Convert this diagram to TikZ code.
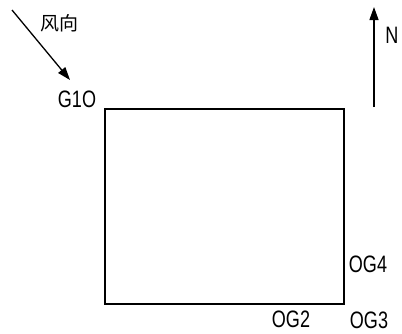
\documentclass[tikz,border=0pt]{standalone}
\usepackage{fontspec}
\setmainfont{Liberation Sans}
\newfontfamily\cjk{Noto Sans CJK SC}
\usetikzlibrary{arrows.meta}
\newcommand{\tallt}[1]{\scalebox{0.95}[1.25]{#1}}
\begin{document}
\begin{tikzpicture}[x=1pt,y=-1pt,
  lbl/.style={inner sep=0pt,font=\fontsize{19}{19}\selectfont},
  arr/.style={line width=1.3pt,-{Triangle[length=13pt,width=9pt]}}]
\useasboundingbox (0,0) rectangle (402,333);
% site boundary
\draw[line width=1.1pt] (105,109) rectangle (344,304);
% wind direction
\coordinate (w0) at (12,10);
\coordinate (w1) at (70,80);
\draw[arr] (w0) -- (w1);
\node[inner sep=0pt,font=\cjk\fontsize{19}{19}\selectfont] (wind) at (60,23) {风向};
% north arrow
\coordinate (n0) at (374,107);
\coordinate (n1) at (374,7);
\draw[arr] (n0) -- (n1);
\node[lbl] (N) at (392,35) {\tallt{N}};
% monitoring points
\node[lbl] (g1) at (77,99) {\tallt{G1O}};
\node[lbl] (g2) at (291,319) {\tallt{OG2}};
\node[lbl] (g3) at (369,320) {\tallt{OG3}};
\node[lbl] (g4) at (368,264) {\tallt{OG4}};
\end{tikzpicture}
\end{document}
